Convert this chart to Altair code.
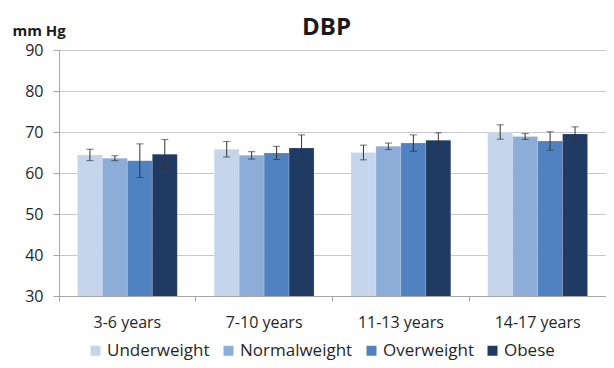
import altair as alt
import pandas as pd

ages = ["3-6 years", "7-10 years", "11-13 years", "14-17 years"]
groups = ["Underweight", "Normalweight", "Overweight", "Obese"]
colors = ["#c5d6ec", "#8dadd9", "#5082c2", "#1f3a63"]

underweight = [64.4, 65.8, 65.0, 70.0]
normalweight = [63.6, 64.3, 66.5, 68.9]
overweight = [63.0, 64.9, 67.3, 67.8]
obese = [64.6, 66.1, 68.0, 69.5]

err_under = [1.4, 1.9, 1.8, 1.75]
err_normal = [0.6, 0.9, 0.8, 0.7]
err_over = [4.1, 1.6, 2.0, 2.25]
err_obese = [3.55, 3.2, 1.8, 1.75]

y_ticks = [30, 40, 50, 60, 70, 80, 90]

rows = []
for g, vals, errs in zip(groups, [underweight, normalweight, overweight, obese],
                         [err_under, err_normal, err_over, err_obese]):
    for a, v, e in zip(ages, vals, errs):
        rows.append({"age": a, "group": g, "mean": v, "lo": v - e, "hi": v + e})
df = pd.DataFrame(rows)

FONT = "Open Sans"

x_scale = alt.Scale(paddingInner=0, paddingOuter=0)
x_enc = alt.X("age:N", sort=ages, scale=x_scale,
              axis=alt.Axis(title=None, orient="bottom", labelFontSize=16, labelPadding=18,
                            ticks=False, domainColor="#a6a6a6", labelColor="#262626",
                            labelAngle=0, grid=False, labelFont=FONT))
xo_enc = alt.XOffset("group:N", sort=groups,
                     scale=alt.Scale(paddingInner=0, paddingOuter=0.74))

y_axis = alt.Axis(values=y_ticks, title="mm Hg", titleAngle=0, titleX=-47, titleY=-15,
                  titleAlign="left", titleBaseline="alphabetic", titleFontSize=15,
                  titleFontWeight="bold", titleColor="#1a1a1a", titleFont=FONT,
                  labelFontSize=16, labelPadding=10, tickSize=6, tickColor="#a6a6a6",
                  gridColor="#c8c8c8", domainColor="#a6a6a6", labelColor="#262626",
                  labelFont=FONT)
y_scale = alt.Scale(domain=[30, 90], nice=False, zero=False)

base = alt.Chart(df)

bars = base.mark_bar(clip=True, stroke="white", strokeWidth=0.3, strokeOpacity=0.5).encode(
    x=x_enc,
    xOffset=xo_enc,
    y=alt.Y("mean:Q", scale=y_scale, axis=y_axis),
    color=alt.Color("group:N", sort=groups,
                    scale=alt.Scale(domain=groups, range=colors),
                    legend=alt.Legend(title=None, orient="none", direction="horizontal",
                                      legendX=28, legendY=292, symbolType="square",
                                      symbolSize=100, symbolStrokeWidth=0,
                                      labelFontSize=17, labelFont=FONT,
                                      labelColor="#262626", columnPadding=10,
                                      labelOffset=3)),
)

edge_axis = alt.Axis(title=None, orient="bottom", labels=False, domain=False, ticks=True,
                     tickSize=5, tickColor="#a6a6a6", bandPosition=0, grid=False)

err_rule = base.mark_rule(color="#333333", strokeWidth=1).encode(
    x=alt.X("age:N", sort=ages, axis=edge_axis),
    xOffset=xo_enc,
    y=alt.Y("lo:Q", scale=y_scale),
    y2="hi:Q",
)
cap_lo = base.mark_tick(color="#333333", orient="horizontal", size=7, thickness=1).encode(
    x=alt.X("age:N", sort=ages, axis=None),
    xOffset=xo_enc,
    y=alt.Y("lo:Q", scale=y_scale),
)
cap_hi = base.mark_tick(color="#333333", orient="horizontal", size=7, thickness=1).encode(
    x=alt.X("age:N", sort=ages, axis=None),
    xOffset=xo_enc,
    y=alt.Y("hi:Q", scale=y_scale),
)

chart = alt.layer(bars, err_rule, cap_lo, cap_hi).resolve_axis(x="independent").properties(
    width=547, height=246,
    autosize=alt.AutoSizeParams(type="none"),
    padding={"left": 51, "top": 42, "right": 0, "bottom": 64},
    title=alt.TitleParams("DBP", fontSize=24, fontWeight="bold", anchor="middle",
                          frame="group", offset=-17, dx=-6, font=FONT, color="#1a1a1a"),
).configure_view(stroke=None).configure(font=FONT)

chart.save("out.html", embed_options={"renderer": "svg", "actions": False})
